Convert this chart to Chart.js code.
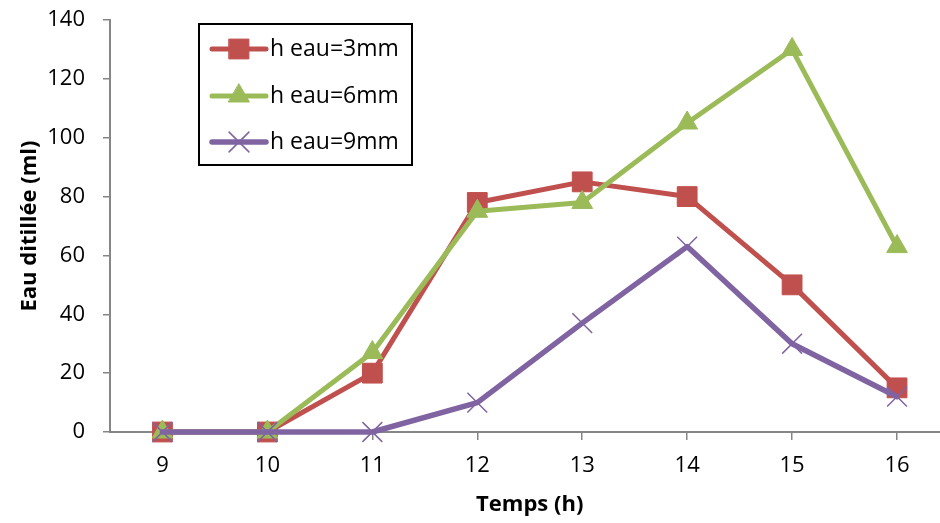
<!DOCTYPE html>
<html>
<head>
<meta charset="utf-8">
<script src="https://cdn.jsdelivr.net/npm/chart.js@4/dist/chart.umd.min.js"></script>
<style>
  body { margin: 0; background: #fff; }
  #wrap { width: 940px; height: 523px; overflow: hidden; }
  #chart { display: block; }
</style>
</head>
<body>
<div id="wrap"><canvas id="chart" width="965" height="523" style="width:965px;height:523px"></canvas></div>
<script>
const hours = ['9', '10', '11', '12', '13', '14', '15', '16'];
const h3mm = [0, 0, 20, 78, 85, 80, 50, 15];
const h6mm = [0, 0, 27, 75, 78, 105, 130, 63];
const h9mm = [0, 0, 0, 10, 37, 63, 30, 12];
const seriesNames = ['h eau=3mm', 'h eau=6mm', 'h eau=9mm'];

const FONT = '"Open Sans", sans-serif';
const axisGrey = '#868686';

// legend drawn inside the plot, like the spreadsheet one
const boxLegend = {
    id: 'boxLegend',
    afterDraw(chart) {
        const ctx = chart.ctx;
        const x0 = 199, y0 = 24, w = 213, h = 141;
        ctx.save();
        ctx.fillStyle = '#fff';
        ctx.fillRect(x0, y0, w, h);
        ctx.strokeStyle = '#000';
        ctx.lineWidth = 2;
        ctx.strokeRect(x0, y0, w, h);
        const rows = [49, 96, 142];
        chart.data.datasets.forEach((ds, i) => {
            const y = rows[i];
            ctx.strokeStyle = ds.borderColor;
            ctx.lineWidth = ds.borderWidth;
            ctx.lineCap = 'round';
            ctx.beginPath();
            ctx.moveTo(212, y);
            ctx.lineTo(266, y);
            ctx.stroke();
            ctx.fillStyle = ds.pointBackgroundColor;
            ctx.strokeStyle = ds.pointBorderColor;
            ctx.lineWidth = ds.pointBorderWidth;
            Chart.helpers.drawPoint(ctx, {
                pointStyle: ds.pointStyle,
                radius: ds.pointRadius,
                rotation: 0,
                borderWidth: ds.pointBorderWidth
            }, 239, y);
            ctx.fillStyle = '#000';
            ctx.font = '23px ' + FONT;
            ctx.textBaseline = 'middle';
            ctx.textAlign = 'left';
            ctx.fillText(ds.label, 270, y);
        });
        ctx.restore();
    }
};

new Chart(document.getElementById('chart'), {
    type: 'line',
    data: {
        labels: hours,
        datasets: [{
            label: seriesNames[0],
            data: h3mm,
            borderColor: '#C0504D',
            borderWidth: 5,
            pointStyle: 'rect',
            pointRadius: 14,
            pointBackgroundColor: '#C0504D',
            pointBorderColor: '#C0504D',
            pointBorderWidth: 1,
            clip: false,
            order: 3
        }, {
            label: seriesNames[1],
            data: h6mm,
            borderColor: '#9BBB59',
            borderWidth: 5,
            pointStyle: 'triangle',
            pointRadius: 12,
            pointBackgroundColor: '#9BBB59',
            pointBorderColor: '#9BBB59',
            pointBorderWidth: 1,
            clip: false,
            order: 2
        }, {
            label: seriesNames[2],
            data: h9mm,
            borderColor: '#8064A2',
            borderWidth: 5.5,
            pointStyle: 'crossRot',
            pointRadius: 14,
            pointBackgroundColor: '#8064A2',
            pointBorderColor: '#8064A2',
            pointBorderWidth: 1.5,
            clip: false,
            order: 1
        }]
    },
    options: {
        responsive: false,
        animation: false,
        devicePixelRatio: 1,
        elements: { line: { tension: 0, borderJoinStyle: 'round', borderCapStyle: 'round' } },
        layout: { padding: { top: 20, right: 1, left: 0, bottom: 0 } },
        plugins: { legend: { display: false }, tooltip: { enabled: false } },
        scales: {
            x: {
                offset: true,
                grid: { drawOnChartArea: false, drawTicks: true, tickLength: 8, color: axisGrey, lineWidth: 1.5 },
                border: { color: axisGrey, width: 2 },
                ticks: { color: '#000', font: { family: FONT, size: 22 }, padding: 13 },
                title: { display: true, text: 'Temps (h)', color: '#000', font: { family: FONT, size: 22, weight: 'bold' }, padding: { top: 0, bottom: 5 } },
                afterFit(scale) {
                    scale.height = 91;
                    scale.paddingLeft = 0;
                    scale.paddingRight = 0;
                }
            },
            y: {
                min: 0,
                max: 140,
                ticks: { stepSize: 20, color: '#000', font: { family: FONT, size: 22 }, padding: 18 },
                grid: { drawOnChartArea: false, drawTicks: true, tickLength: 7, color: axisGrey, lineWidth: 1.5 },
                border: { color: axisGrey, width: 2 },
                title: { display: true, text: 'Eau ditillée (ml)', color: '#000', font: { family: FONT, size: 22, weight: 'bold' }, padding: { top: 17, bottom: 0 } },
                afterFit(scale) {
                    scale.width = 110;
                    scale.paddingTop = 0;
                    scale.paddingBottom = 0;
                }
            }
        }
    },
    plugins: [boxLegend]
});
</script>
</body>
</html>
